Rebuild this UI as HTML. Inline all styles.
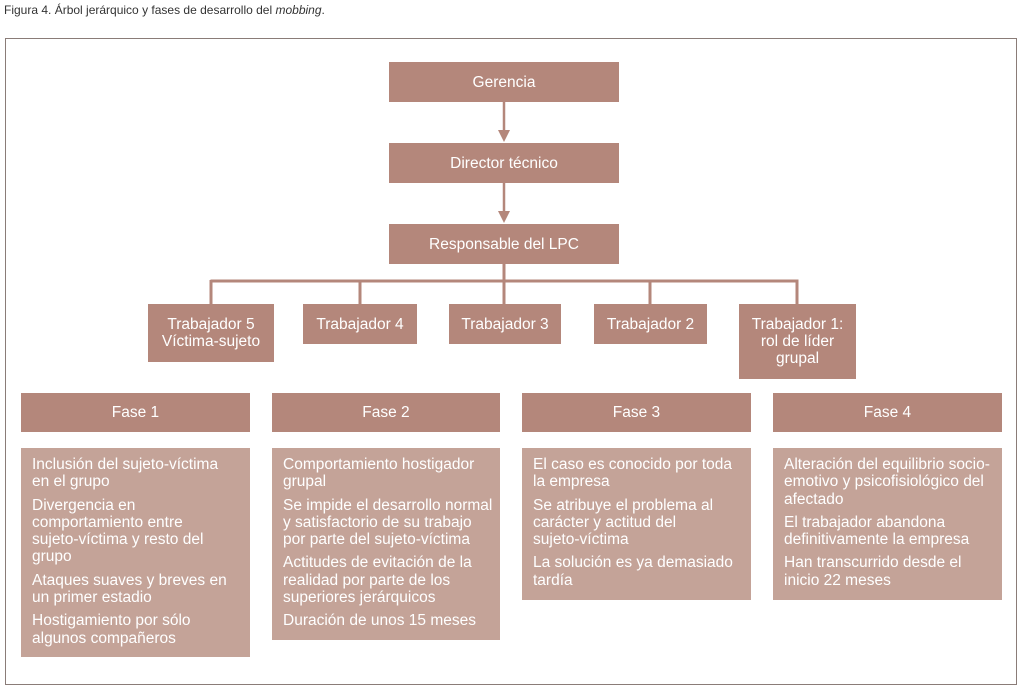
<!DOCTYPE html>
<html><head><meta charset="utf-8"><style>
body{margin:0;width:1024px;height:693px;background:#fff;position:relative;overflow:hidden;font-family:"Liberation Sans",sans-serif;}
.cap{position:absolute;left:4px;top:3px;font-size:12px;color:#333;}
.frame{position:absolute;left:5px;top:38px;width:1012px;height:647px;border:1px solid #8a7c78;box-sizing:border-box;}
.b{position:absolute;background:#b4877b;color:#fff;font-size:15.5px;display:flex;align-items:center;justify-content:center;text-align:center;line-height:17px;}
.body{position:absolute;background:#c4a398;color:#fff;font-size:15.5px;line-height:17.3px;padding:8px 4px 0 11px;box-sizing:border-box;white-space:nowrap;}
.body p{margin:0 0 6px 0;}
</style></head><body>
<div class="cap">Figura 4. Árbol jerárquico y fases de desarrollo del <i>mobbing</i>.</div>
<div class="frame"></div>
<div class="b" style="left:389px;top:62px;width:230px;height:40px">Gerencia</div>
<div class="b" style="left:389px;top:143px;width:230px;height:40px">Director técnico</div>
<div class="b" style="left:389px;top:224px;width:230px;height:40px">Responsable del LPC</div>
<svg style="position:absolute;left:0;top:0" width="1024" height="693">
<g fill="#b4877b" stroke="#b4877b">
<line x1="504" y1="102" x2="504" y2="132" stroke-width="2.5"/>
<polygon points="498,130 510,130 504,142" stroke="none"/>
<line x1="504" y1="183" x2="504" y2="213" stroke-width="2.5"/>
<polygon points="498,211 510,211 504,223" stroke="none"/>
<line x1="504" y1="264" x2="504" y2="281" stroke-width="3"/>
<line x1="210.5" y1="281" x2="798.5" y2="281" stroke-width="3"/>
<line x1="211" y1="280" x2="211" y2="304" stroke-width="3"/>
<line x1="360" y1="280" x2="360" y2="304" stroke-width="3"/>
<line x1="504" y1="280" x2="504" y2="304" stroke-width="3"/>
<line x1="650" y1="280" x2="650" y2="304" stroke-width="3"/>
<line x1="797" y1="280" x2="797" y2="304" stroke-width="3"/>
</g></svg>
<div class="b" style="left:148px;top:304px;width:126px;height:58px">Trabajador 5<br>Víctima-sujeto</div>
<div class="b" style="left:303px;top:304px;width:114px;height:40px">Trabajador 4</div>
<div class="b" style="left:449px;top:304px;width:112px;height:40px">Trabajador 3</div>
<div class="b" style="left:594px;top:304px;width:113px;height:40px">Trabajador 2</div>
<div class="b" style="left:739px;top:304px;width:117px;height:75px">Trabajador 1:<br>rol de líder<br>grupal</div>
<div class="b" style="left:21px;top:393px;width:229px;height:39px">Fase 1</div>
<div class="b" style="left:272px;top:393px;width:228px;height:39px">Fase 2</div>
<div class="b" style="left:522px;top:393px;width:229px;height:39px">Fase 3</div>
<div class="b" style="left:773px;top:393px;width:229px;height:39px">Fase 4</div>
<div class="body" style="left:21px;top:448px;width:229px;height:209px"><p>Inclusión del sujeto-víctima<br>en el grupo</p><p>Divergencia en<br>comportamiento entre<br>sujeto-víctima y resto del<br>grupo</p><p>Ataques suaves y breves en<br>un primer estadio</p><p>Hostigamiento por sólo<br>algunos compañeros</p></div>
<div class="body" style="left:272px;top:448px;width:228px;height:192px"><p>Comportamiento hostigador<br>grupal</p><p>Se impide el desarrollo normal<br>y satisfactorio de su trabajo<br>por parte del sujeto-víctima</p><p>Actitudes de evitación de la<br>realidad por parte de los<br>superiores jerárquicos</p><p>Duración de unos 15 meses</p></div>
<div class="body" style="left:522px;top:448px;width:229px;height:152px"><p>El caso es conocido por toda<br>la empresa</p><p>Se atribuye el problema al<br>carácter y actitud del<br>sujeto-víctima</p><p>La solución es ya demasiado<br>tardía</p></div>
<div class="body" style="left:773px;top:448px;width:229px;height:152px"><p>Alteración del equilibrio socio-<br>emotivo y psicofisiológico del<br>afectado</p><p>El trabajador abandona<br>definitivamente la empresa</p><p>Han transcurrido desde el<br>inicio 22 meses</p></div>
</body></html>
